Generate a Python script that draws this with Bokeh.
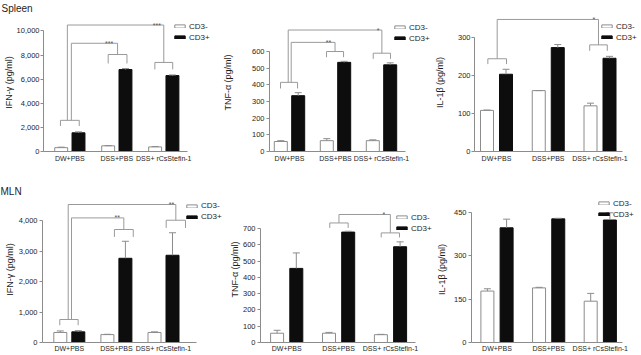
from bokeh.plotting import figure
from bokeh.layouts import row, column
from bokeh.models import (Range1d, FixedTicker, NumeralTickFormatter, Legend,
                          LegendItem, ColumnDataSource, Title)
from bokeh.embed import file_html
from bokeh.resources import INLINE
from bokeh.core.properties import value

# ---------------- data ----------------
groups = ["DW+PBS", "DSS+PBS", "DSS+ rCsStefin-1"]
series = ["CD3-", "CD3+"]

spleen_ifng_neg = [320, 470, 380]
spleen_ifng_neg_err = [40, 20, 30]
spleen_ifng_pos = [1550, 6800, 6300]
spleen_ifng_pos_err = [80, 80, 50]
spleen_ifng_ticks = [0, 2000, 4000, 6000, 8000, 10000]
spleen_ifng_sig = ["***", "***"]

spleen_tnf_neg = [60, 65, 65]
spleen_tnf_neg_err = [5, 12, 5]
spleen_tnf_pos = [335, 535, 520]
spleen_tnf_pos_err = [18, 6, 12]
spleen_tnf_ticks = [0, 100, 200, 300, 400, 500, 600]
spleen_tnf_sig = ["**", "*"]

spleen_il1b_neg = [108, 160, 120]
spleen_il1b_neg_err = [1, 0, 7]
spleen_il1b_pos = [203, 273, 245]
spleen_il1b_pos_err = [13, 8, 5]
spleen_il1b_ticks = [0, 100, 200, 300]
spleen_il1b_sig = ["*"]

mln_ifng_neg = [330, 260, 330]
mln_ifng_neg_err = [50, 10, 20]
mln_ifng_pos = [350, 2770, 2870]
mln_ifng_pos_err = [40, 560, 740]
mln_ifng_ticks = [0, 1000, 2000, 3000, 4000]
mln_ifng_sig = ["**", "**"]

mln_tnf_neg = [57, 57, 48]
mln_tnf_neg_err = [18, 5, 2]
mln_tnf_pos = [455, 678, 588]
mln_tnf_pos_err = [95, 5, 30]
mln_tnf_ticks = [0, 100, 200, 300, 400, 500, 600, 700]
mln_tnf_sig = ["*"]

mln_il1b_neg = [178, 189, 143]
mln_il1b_neg_err = [8, 2, 27]
mln_il1b_pos = [397, 428, 424]
mln_il1b_pos_err = [30, 2, 25]
mln_il1b_ticks = [0, 150, 300, 450]
mln_il1b_sig = []

# ---------------- layout / style ----------------
FONT = "Liberation Sans"
AX = "#8c8c8c"
BR = "#9a9a9a"
TXT = "#1e1e1e"
BLK = "#0d0d0d"
ROW1_TOP = 12
ROW2_TOP = 24

LAYOUTS = [
    dict(col=(0, 212), row=(0, 172), mbt=ROW1_TOP, L=42, g1=68.5, gs=47.25, ybase=150.7, ytop_px=29.3,
         B=187, off=8.7, bw=13, leg=(172, 26), ls=0, mls=1, xs=3, title="Spleen",
         brackets=[(1.0, 0.2, 2586, 2117), (2.016, 0.2, 8048, 7306), (3.0, 0.19, 7389, 6812)],
         conns=[(1.032, 2586, 8979, 2.016, 8048, 1.836), (0.947, 2586, 10494, 3.0, 7389, 2.852)]),
    dict(col=(212, 431), row=(0, 172), mbt=ROW1_TOP, L=269.3, g1=289, gs=46, ybase=150.7, ytop_px=50,
         B=405, off=8.7, bw=13, leg=(393, 27), ls=16, mls=2, xs=3, title=None,
         brackets=[(0.99, 0.185, 415, 378), (1.99, 0.185, 600, 566), (3.008, 0.188, 590, 556)],
         conns=[(1.037, 415, 655, 1.99, 600, 1.848), (0.972, 415, 729, 3.008, 590, 2.928)]),
    dict(col=(431, 641), row=(0, 172), mbt=ROW1_TOP, L=474.3, g1=496, gs=51.75, ybase=150.7, ytop_px=35.7,
         B=622, off=9.5, bw=13, leg=(600, 26), ls=10, mls=1, xs=3, title=None,
         brackets=[(1.013, 0.18, 243.7, 229.6), (2.971, 0.17, 280.2, 264.5)],
         conns=[(1.013, 243.7, 347, 2.971, 280.2, 2.88)]),
    dict(col=(0, 225), row=(172, 354), mbt=ROW2_TOP, L=41.7, g1=68.8, gs=47.1, ybase=342.3, ytop_px=220.7,
         B=196, off=9, bw=13, leg=(185, 205.7), ls=1, mls=2, xs=2, title="MLN",
         brackets=[(0.993, 0.195, 757, 569), (2.158, 0.2, 3717, 3473), (3.262, 0.205, 4022, 3770)],
         conns=[(1.047, 757, 4098, 2.158, 3717, 2.017), (0.977, 757, 4539, 3.262, 4022, 3.17)]),
    dict(col=(225, 432), row=(172, 354), mbt=ROW2_TOP, L=260, g1=286.2, gs=51.9, ybase=342.3, ytop_px=228.3,
         B=415, off=9.6, bw=13, leg=(395, 217), ls=0, mls=2, xs=2, title=None,
         brackets=[(2.007, 0.177, 734, 703.6), (2.997, 0.176, 673, 645)],
         conns=[(2.007, 734, 786, 2.997, 673, 2.871)]),
    dict(col=(432, 641), row=(172, 354), mbt=ROW2_TOP, L=470.7, g1=496.5, gs=51.65, ybase=342.3, ytop_px=212.3,
         B=622, off=9.6, bw=13, leg=(597, 203), ls=4, mls=2, xs=2, title=None,
         brackets=[], conns=[]),
]


def make_panel(lay, ylabel, neg, neg_e, pos, pos_e, yticks, sig):
    cx0, cx1 = lay["col"]
    ry0, ry1 = lay["row"]
    gs, g1 = lay["gs"], lay["g1"]
    W = cx1 - cx0
    H = ry1 - ry0
    mbl = round(lay["L"] - cx0)
    mbb = round(ry1 - lay["ybase"])
    mbt = lay["mbt"]
    fl = cx0 + mbl                  # frame left (page px)
    fb = ry1 - mbb                  # frame bottom (page px)
    ft = ry0 + mbt                  # frame top (page px)
    upp = yticks[-1] / (lay["ybase"] - lay["ytop_px"])
    x0 = 1 - (g1 - fl) / gs
    x1 = 1 + (cx1 - g1) / gs
    xb = 1 + (lay["B"] - g1) / gs
    ytop = (fb - ft) * upp

    p = figure(width=W, height=H, x_range=Range1d(x0, x1), y_range=Range1d(0, ytop),
               output_backend="svg", toolbar_location=None, title=None,
               min_border_left=mbl, min_border_right=0, min_border_top=mbt,
               min_border_bottom=mbb)
    p.outline_line_color = None
    p.xgrid.visible = False
    p.ygrid.visible = False
    p.background_fill_color = "white"
    p.border_fill_color = "white"

    ya = p.yaxis[0]
    ya.ticker = FixedTicker(ticks=yticks)
    ya.formatter = NumeralTickFormatter(format="0,0")
    ya.bounds = (0, yticks[-1])
    ya.axis_line_color = AX
    ya.major_tick_line_color = AX
    ya.major_tick_out = 3
    ya.major_tick_in = 0
    ya.minor_tick_line_color = None
    ya.major_label_standoff = lay["mls"]
    ya.major_label_text_font = FONT
    ya.major_label_text_font_size = "7.5px"
    ya.major_label_text_color = TXT
    ya.axis_label = ylabel
    ya.axis_label_text_font = FONT
    ya.axis_label_text_font_size = "9px"
    ya.axis_label_text_font_style = "normal"
    ya.axis_label_text_color = TXT
    ya.axis_label_standoff = lay["ls"]

    xa = p.xaxis[0]
    xa.ticker = FixedTicker(ticks=[1, 2, 3])
    xa.major_label_overrides = {1: groups[0], 2: groups[1], 3: groups[2]}
    xa.bounds = (x0, xb)
    xa.axis_line_color = AX
    xa.major_tick_line_color = None
    xa.major_tick_out = 0
    xa.major_tick_in = 0
    xa.minor_tick_line_color = None
    xa.major_label_standoff = lay["xs"]
    xa.major_label_text_font = FONT
    xa.major_label_text_font_size = "7px"
    xa.major_label_text_color = TXT

    gx = [1, 2, 3]
    off = lay["off"] / gs
    bw = lay["bw"] / gs
    cw = 3.5 / gs
    xn = [g - off for g in gx]
    xp = [g + off for g in gx]
    src = ColumnDataSource(dict(
        xn=xn, xp=xp, neg=neg, pos=pos,
        neg_hi=[v + e for v, e in zip(neg, neg_e)],
        pos_hi=[v + e for v, e in zip(pos, pos_e)],
        xn_l=[x - cw for x in xn], xn_r=[x + cw for x in xn],
        xp_l=[x - cw for x in xp], xp_r=[x + cw for x in xp],
    ))
    rn = p.vbar(x="xn", top="neg", bottom=0, width=bw, source=src,
                fill_color="white", line_color=AX, line_width=1)
    rp = p.vbar(x="xp", top="pos", bottom=0, width=bw, source=src,
                fill_color=BLK, line_color=BLK, line_width=1)
    for xc, lo, hi, l, r in (("xn", "neg", "neg_hi", "xn_l", "xn_r"),
                             ("xp", "pos", "pos_hi", "xp_l", "xp_r")):
        p.segment(x0=xc, y0=lo, x1=xc, y1=hi, source=src, line_color=AX, line_width=1)
        p.segment(x0=l, y0=hi, x1=r, y1=hi, source=src, line_color=AX, line_width=1)

    # significance brackets
    bxs, bys = [], []
    for c, hw, h, lo in lay["brackets"]:
        bxs.append([c - hw, c - hw, c + hw, c + hw])
        bys.append([lo, h, h, lo])
    sx, sy = [], []
    for (xa0, h0, top, xa1, h1, stx) in lay["conns"]:
        bxs.append([xa0, xa0, xa1, xa1])
        bys.append([h0, top, top, h1])
        sx.append(stx)
        sy.append(top)
    if bxs:
        p.multi_line(xs=bxs, ys=bys, line_color=BR, line_width=1)
    if sx:
        p.text(x=sx, y=sy, text=list(sig), text_align="center", text_baseline="alphabetic",
               text_font=value(FONT), text_font_size="7px", text_color="#555555")

    # legend (inside the frame, top right)
    lx = lay["leg"][0] - fl
    vy = fb - (lay["leg"][1] - 5.5 + 22)
    leg = Legend(items=[LegendItem(label=series[0], renderers=[rn]),
                        LegendItem(label=series[1], renderers=[rp])],
                 location=(lx, vy), glyph_width=13, glyph_height=4, label_height=11,
                 spacing=0, padding=0, margin=0, border_line_color=None,
                 background_fill_alpha=0, label_text_font=FONT,
                 label_text_font_size="8px", label_text_color=TXT, label_standoff=3)
    p.add_layout(leg)

    if lay["title"]:
        p.add_layout(Title(text=lay["title"], align="left", offset=-mbl, standoff=0,
                           text_font=FONT, text_font_size="10px", text_font_style="normal",
                           text_color=TXT, vertical_align="bottom"), "above")
    return p


p1 = make_panel(LAYOUTS[0], "IFN-γ (pg/ml)", spleen_ifng_neg, spleen_ifng_neg_err,
                spleen_ifng_pos, spleen_ifng_pos_err, spleen_ifng_ticks, spleen_ifng_sig)
p2 = make_panel(LAYOUTS[1], "TNF-α (pg/ml)", spleen_tnf_neg, spleen_tnf_neg_err,
                spleen_tnf_pos, spleen_tnf_pos_err, spleen_tnf_ticks, spleen_tnf_sig)
p3 = make_panel(LAYOUTS[2], "IL-1β (pg/ml)", spleen_il1b_neg, spleen_il1b_neg_err,
                spleen_il1b_pos, spleen_il1b_pos_err, spleen_il1b_ticks, spleen_il1b_sig)
p4 = make_panel(LAYOUTS[3], "IFN-γ (pg/ml)", mln_ifng_neg, mln_ifng_neg_err,
                mln_ifng_pos, mln_ifng_pos_err, mln_ifng_ticks, mln_ifng_sig)
p5 = make_panel(LAYOUTS[4], "TNF-α (pg/ml)", mln_tnf_neg, mln_tnf_neg_err,
                mln_tnf_pos, mln_tnf_pos_err, mln_tnf_ticks, mln_tnf_sig)
p6 = make_panel(LAYOUTS[5], "IL-1β (pg/ml)", mln_il1b_neg, mln_il1b_neg_err,
                mln_il1b_pos, mln_il1b_pos_err, mln_il1b_ticks, mln_il1b_sig)

layout = column(row(p1, p2, p3), row(p4, p5, p6))
open("out.html", "w").write(file_html(layout, INLINE))
